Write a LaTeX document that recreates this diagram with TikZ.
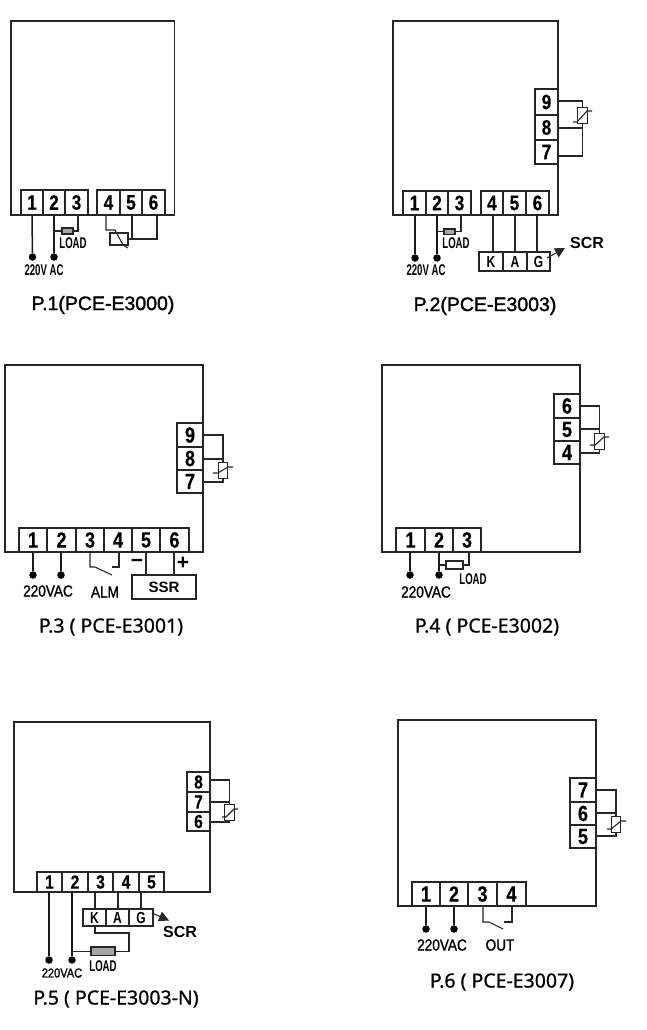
\documentclass[tikz,border=0pt]{standalone}
\usepackage{fontspec}
\setmainfont{Liberation Sans}
\newfontfamily\numfont[FakeStretch=0.82,FakeBold=0.4]{Liberation Sans Bold}
\newfontfamily\narrowfont[FakeStretch=0.62]{Liberation Sans Bold}
\newfontfamily\kagfont[FakeStretch=0.75]{Liberation Sans Bold}
\newfontfamily\midfont[FakeStretch=0.85,FakeBold=1.2]{Liberation Sans}
\newfontfamily\titlefont[FakeBold=1.5]{Liberation Sans}
\newfontfamily\korfont[FakeBold=0.8]{Noto Sans}
\usetikzlibrary{arrows.meta,calc}
\tikzset{
  panel/.style={draw=black!85,line width=1.3pt,inner sep=0pt,fill=white},
  term/.style={draw=black!85,line width=1.2pt,inner sep=0pt,fill=white,font=\numfont\fontsize{21}{21}\selectfont},
  termb/.style={term,font=\numfont\fontsize{22}{22}\selectfont},
  terms/.style={term,font=\numfont\fontsize{19}{19}\selectfont},
  kag/.style={term,font=\kagfont\fontsize{16}{16}\selectfont},
  ssrbox/.style={term,font=\fontsize{15}{15}\selectfont\bfseries},
  load/.style={draw=black!85,line width=1.1pt,fill=gray!70,inner sep=0pt},
  loadw/.style={load,fill=white},
  sens/.style={draw=black!85,line width=1.2pt,fill=white,inner sep=0pt,minimum width=9.5pt,minimum height=15.5pt},
  wire/.style={draw=black!85,line width=1.1pt},
  power/.style={draw=black!90,line width=1.5pt},
  dotn/.style={circle,fill=black,inner sep=0pt,minimum size=7.5pt},
  narrow/.style={inner sep=0pt,font=\narrowfont\fontsize{15.5}{15.5}\selectfont},
  mid/.style={inner sep=0pt,font=\midfont\fontsize{16}{16}\selectfont},
  scrl/.style={inner sep=0pt,font=\fontsize{16}{16}\selectfont\bfseries},
  ttl/.style={inner sep=0pt,font=\titlefont\fontsize{19.5}{19.5}\selectfont},
  ttk/.style={inner sep=0pt,font=\korfont\fontsize{19.5}{19.5}\selectfont},
  sign/.style={inner sep=0pt,font=\fontsize{21}{21}\selectfont\bfseries},
}
\newcommand\BX[7][term]{\node[#1,minimum width={(#5-#3)*1pt},minimum height={(#6-#4)*1pt}] (#2) at ({(#3+#5)/2},{(#4+#6)/2}) {#7};}
\begin{document}
\begin{tikzpicture}[x=1pt,y=-1pt]
\useasboundingbox (0,0) rectangle (646,1030);
\fill[white] (0,0) rectangle (646,1030);

%%% P.1
\BX[panel]{a0}{11}{21}{174.5}{215}{}
\BX{a1}{21}{190}{43}{215}{1}
\BX{a2}{43}{190}{65}{215}{2}
\BX{a3}{65}{190}{88}{215}{3}
\BX{a4}{97}{190}{120}{215}{4}
\BX{a5}{120}{190}{142}{215}{5}
\BX{a6}{142}{190}{165}{215}{6}
\node[dotn] (ad1) at (32.5,257) {};
\node[dotn] (ad2) at (54,257) {};
\draw[power] (a1.south) -- (ad1);
\draw[power] (a2.south) -- (ad2);
\BX[load]{al}{62}{228}{73}{234}{}
\draw[wire] (al.west) -- (al.west -| ad2);
\draw[wire] (al.east) -| (78,215);
\BX[sens]{as}{110}{233}{128}{245}{}
\draw[wire] (106,215) |- (115,230) -- (123,245) -- (128,248);
\draw[wire] (132,215) -- (132,240);
\draw[wire] (157,215) |- (as.east);
\node[narrow] (al1) at (73,243) {LOAD};
\node[narrow] (al2) at (44,270) {220V AC};
\node[ttl] (at) at (103,305) {P.1(PCE-E3000)};

%%% P.2
\BX[panel]{b0}{393}{21}{558}{215}{}
\BX{b1}{403}{191}{426}{215}{1}
\BX{b2}{426}{191}{448}{215}{2}
\BX{b3}{448}{191}{471}{215}{3}
\BX{b4}{481}{191}{503}{215}{4}
\BX{b5}{503}{191}{526}{215}{5}
\BX{b6}{526}{191}{549}{215}{6}
\BX{b9}{535}{89}{558}{115}{9}
\BX{b8}{535}{115}{558}{140}{8}
\BX{b7}{535}{140}{558}{164}{7}
\node[dotn] (bd1) at (415,258) {};
\node[dotn] (bd2) at (437,258) {};
\draw[power] (bd1 |- b1.south) -- (bd1);
\draw[power] (bd2 |- b2.south) -- (bd2);
\BX[load]{bl}{444}{229}{455}{234.5}{}
\draw[wire] (bl.west) -- (bl.west -| bd2);
\draw[wire] (bl.east) -| (461,215);
\BX[kag]{bk}{479}{252}{503}{271}{K}
\BX[kag]{ba}{503}{252}{527}{271}{A}
\BX[kag]{bg}{527}{252}{550}{271}{G}
\draw[wire] (493,215) -- (493,252);
\draw[wire] (515,215) -- (515,252);
\draw[wire] (537,215) -- (537,252);
\coordinate (bs0) at (547,258);
\coordinate (bs1) at (565,248);
\draw[wire,-{Triangle[length=10pt,width=10pt]}] (bs0) -- (bs1);
\node[scrl] (bs) at (587,243) {SCR};
\node[sens] (bse) at (582.5,115.5) {};
\draw[wire] (b9.east |- 0,101) -| (bse.north);
\draw[wire] (b8.east |- 0,128) -- (582.5,128);
\draw[wire] (bse.south) |- (b7.east |- 0,156);
\draw[wire] (573,122) -- (577,122) -- (587,111) -- (592,111);
\node[narrow] (bl1) at (456,243) {LOAD};
\node[narrow] (bl2) at (426,270) {220V AC};
\node[ttl] (bt) at (485,306) {P.2(PCE-E3003)};

%%% P.3
\BX[panel]{c0}{5}{365}{203}{552}{}
\BX[termb]{c1}{19}{528}{47}{552}{1}
\BX[termb]{c2}{47}{528}{76}{552}{2}
\BX[termb]{c3}{76}{528}{104}{552}{3}
\BX[termb]{c4}{104}{528}{132}{552}{4}
\BX[termb]{c5}{132}{528}{160}{552}{5}
\BX[termb]{c6}{160}{528}{189}{552}{6}
\BX[termb]{c9}{177}{423}{203}{447}{9}
\BX[termb]{c8}{177}{447}{203}{470}{8}
\BX[termb]{c7}{177}{470}{203}{493}{7}
\node[dotn] (cd1) at (33,575) {};
\node[dotn] (cd2) at (61,575) {};
\draw[power] (cd1 |- c1.south) -- (cd1);
\draw[power] (cd2 |- c2.south) -- (cd2);
\draw[wire] (90,552) |- (95,567) -- (112,575);
\draw[wire] (119,552) |- (112,567);
\BX[ssrbox]{cs}{132}{575}{196}{599}{SSR}
\draw[wire] (146,552) -- (146,575);
\draw[wire] (174,552) -- (174,575);
\node[sign] (cm) at (137,563.5) {−};
\node[sign] (cp) at (183,563.5) {+};
\node[sens] (cse) at (223,470.5) {};
\draw[wire] (c9.east |- 0,435) -| (cse.north);
\draw[wire] (c8.east |- 0,459) -- (223,459);
\draw[wire] (cse.south) |- (c7.east |- 0,482);
\draw[wire] (213,473) -- (218,473) -- (228,467) -- (233,467);
\node[mid] (cl1) at (48,591) {220VAC};
\node[mid] (cl2) at (105,592) {ALM};
\node[ttk] (ct) at (111,627) {P.3 ( PCE-E3001)};

%%% P.4
\BX[panel]{d0}{382}{365}{580}{552}{}
\BX[termb]{d1}{396}{528}{425}{552}{1}
\BX[termb]{d2}{425}{528}{453}{552}{2}
\BX[termb]{d3}{453}{528}{481}{552}{3}
\BX[termb]{d6}{554}{394}{580}{418}{6}
\BX[termb]{d5}{554}{418}{580}{441}{5}
\BX[termb]{d4}{554}{441}{580}{464}{4}
\node[dotn] (dd1) at (410,575) {};
\node[dotn] (dd2) at (439,575) {};
\draw[power] (dd1 |- d1.south) -- (dd1);
\draw[power] (dd2 |- d2.south) -- (dd2);
\BX[loadw]{dl}{446}{561}{463}{569}{}
\draw[wire] (dl.west) -- (dl.west -| dd2);
\draw[wire] (dl.east) -| (469,552);
\node[sens] (dse) at (599.5,441.5) {};
\draw[wire] (d6.east |- 0,406) -| (dse.north);
\draw[wire] (d5.east |- 0,429) -- (599.5,429);
\draw[wire] (dse.south) |- (d4.east |- 0,453);
\draw[wire] (590,445) -- (595,445) -- (604,437) -- (609,437);
\node[narrow] (dl1) at (473,579) {LOAD};
\node[mid] (dl2) at (426,592) {220VAC};
\node[ttk] (dt) at (487,627) {P.4 ( PCE-E3002)};

%%% P.5
\BX[panel]{e0}{14}{722}{210}{892}{}
\BX[terms]{e1}{37}{872}{62}{892}{1}
\BX[terms]{e2}{62}{872}{88}{892}{2}
\BX[terms]{e3}{88}{872}{113}{892}{3}
\BX[terms]{e4}{113}{872}{139}{892}{4}
\BX[terms]{e5}{139}{872}{164}{892}{5}
\BX[terms]{e8}{187}{772}{210}{792}{8}
\BX[terms]{e7}{187}{792}{210}{812}{7}
\BX[terms]{e6}{187}{812}{210}{831}{6}
\node[dotn] (ed1) at (49,960) {};
\node[dotn] (ed2) at (72,960) {};
\draw[power] (ed1 |- e1.south) -- (ed1);
\draw[power] (ed2 |- e2.south) -- (ed2);
\BX[kag]{ek}{83}{909}{106}{926}{K}
\BX[kag]{ea}{106}{909}{129}{926}{A}
\BX[kag]{eg}{129}{909}{153}{926}{G}
\draw[wire] (95,892) -- (95,909);
\draw[wire] (118,892) -- (118,909);
\draw[wire] (141,892) -- (141,909);
\BX[load]{el}{91}{947}{115}{955.5}{}
\draw[wire] (el.west) -- (el.west -| ed2);
\draw[wire] (el.east) -| (129,933) -| (95,926);
\coordinate (es0) at (152,913);
\coordinate (es1) at (169,920.5);
\draw[wire,-{Triangle[length=10pt,width=10pt]}] (es0) -- (es1);
\node[scrl] (es) at (180,932) {SCR};
\node[sens] (ese) at (229.5,812.5) {};
\draw[wire] (e8.east |- 0,780) -| (ese.north);
\draw[wire] (e7.east |- 0,802) -- (229.5,802);
\draw[wire] (ese.south) |- (e6.east |- 0,822);
\draw[wire] (222,817) -- (226,817) -- (234,809) -- (238,809);
\node[narrow] (el1) at (103,966) {LOAD};
\node[inner sep=0pt,font=\midfont\fontsize{13}{13}\selectfont] (el2) at (62,973) {220VAC};
\node[ttk] (et) at (116,999) {P.5 ( PCE-E3003-N)};

%%% P.6
\BX[panel]{f0}{398}{720}{596}{906}{}
\BX[termb]{f1}{412}{882}{440}{906}{1}
\BX[termb]{f2}{440}{882}{468}{906}{2}
\BX[termb]{f3}{468}{882}{497}{906}{3}
\BX[termb]{f4}{497}{882}{526}{906}{4}
\BX[termb]{f7}{570}{778}{596}{802}{7}
\BX[termb]{f6}{570}{802}{596}{825}{6}
\BX[termb]{f5}{570}{825}{596}{848}{5}
\node[dotn] (fd1) at (426,929) {};
\node[dotn] (fd2) at (454,929) {};
\draw[power] (fd1 |- f1.south) -- (fd1);
\draw[power] (fd2 |- f2.south) -- (fd2);
\draw[wire] (483,906) |- (489,922) -- (503,929);
\draw[wire] (512,906) |- (504,922);
\node[sens] (fse) at (616,824.5) {};
\draw[wire] (f7.east |- 0,790) -| (fse.north);
\draw[wire] (f6.east |- 0,813) -- (616,813);
\draw[wire] (fse.south) |- (f5.east |- 0,836);
\draw[wire] (607,829) -- (611,829) -- (621,821) -- (626,821);
\node[mid] (fl1) at (442,945) {220VAC};
\node[mid] (fl2) at (500,945) {OUT};
\node[ttk] (ft) at (502,982) {P.6 ( PCE-E3007)};
\end{tikzpicture}
\end{document}
